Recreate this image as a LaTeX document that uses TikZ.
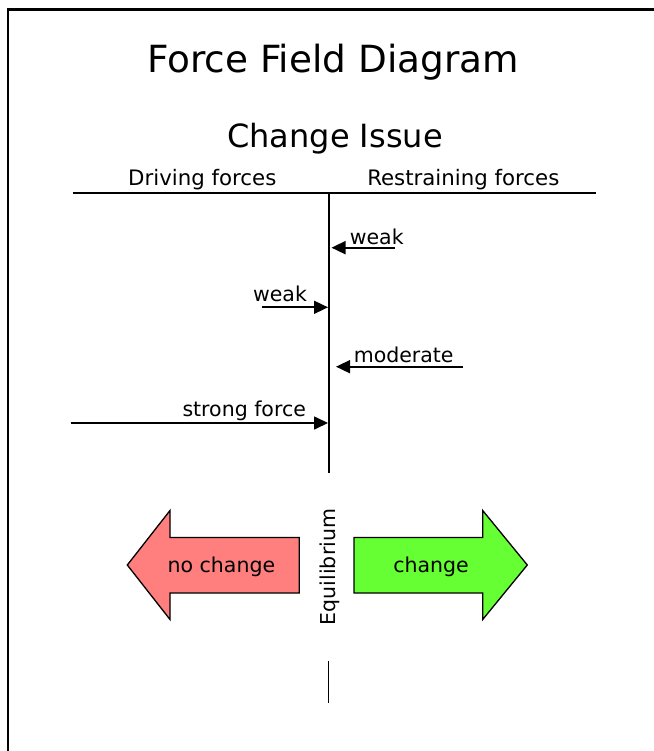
\documentclass[tikz,border=0pt]{standalone}
\usepackage{fontspec}
\setmainfont{DejaVu Sans}
\usetikzlibrary{arrows.meta}
\definecolor{nochangered}{HTML}{FF7F7F}
\definecolor{changegreen}{HTML}{66FF33}

\begin{document}
\begin{tikzpicture}[
      x=1pt, y=-1pt,
      >={Triangle[length=14pt,width=13pt]},
      line width=1.6pt,
      heading/.style={font=\fontsize{21.3}{24}\selectfont, inner sep=0pt, anchor=base},
      forcelabel/.style={font=\fontsize{20.5}{24}\selectfont, inner sep=0pt},
      force/.style={->, line width=1.7pt},
      bigarrow/.style={draw=black, line width=1.3pt, fill=#1},
      bigarrow/.default=white
    ]
      \useasboundingbox (0,0) rectangle (653,751);
      % frame, only its top and left edges are on the page
      \draw[line width=2.2pt] (8,9.5) rectangle (690,790);

      \node[font=\fontsize{37.4}{42}\selectfont, inner sep=0pt, anchor=base] (title) at (333,73) {Force Field Diagram};
      \node[font=\fontsize{32}{36}\selectfont, inner sep=0pt, anchor=base] (issue) at (335,148) {Change Issue};
      \node[heading] (driving) at (202.3,186) {Driving forces};
      \node[heading] (restraining) at (463.3,186) {Restraining forces};

      % axes
      \coordinate (hleft) at (72.7,193.3);
      \coordinate (hright) at (596,193.3);
      \coordinate (vtop) at (329,193.3);
      \coordinate (vbot) at (329,473);
      \draw (hleft) -- (hright);
      \draw (vtop) -- (vbot);

      % forces
      \coordinate (rweaktail) at (395,247.7);
      \coordinate (rweaktip) at (331.5,247.7);
      \coordinate (dweaktail) at (261.7,307.3);
      \coordinate (dweaktip) at (328,307.3);
      \coordinate (moderatetail) at (463.3,366.7);
      \coordinate (moderatetip) at (336,366.7);
      \coordinate (strongtail) at (70.7,423);
      \coordinate (strongtip) at (328,423);

      \draw[force] (rweaktail) -- (rweaktip);
      \draw[force] (dweaktail) -- (dweaktip);
      \draw[force] (moderatetail) -- (moderatetip);
      \draw[force] (strongtail) -- (strongtip);

      \node[forcelabel, anchor=base west] (rweak) at (349,244) {weak};
      \node[forcelabel, anchor=base east] (dweak) at (307.7,301.7) {weak};
      \node[forcelabel, anchor=base west] (moderate) at (353,362.3) {moderate};
      \node[forcelabel, anchor=base east] (strong) at (306.7,416) {strong force};

      % outcome arrows
      \filldraw[bigarrow=nochangered] (299.3,537.5) -- (170,537.5) -- (170,510.5) -- (127.3,565)
        -- (170,619.5) -- (170,593) -- (299.3,593) -- cycle;
      \filldraw[bigarrow=changegreen] (354,537.5) -- (482.7,537.5) -- (482.7,510.5) -- (527.3,565)
        -- (482.7,619.5) -- (482.7,593) -- (354,593) -- cycle;
      \node[forcelabel] (nochange) at (221.4,567) {no change};
      \node[forcelabel] (change) at (431,567) {change};
      \node[forcelabel, rotate=90] (equilibrium) at (329.5,567) {Equilibrium};

      \coordinate (eqtop) at (328.3,660.7);
      \coordinate (eqbot) at (328.3,702.7);
      \draw (eqtop) -- (eqbot);
    \end{tikzpicture}
\end{document}
